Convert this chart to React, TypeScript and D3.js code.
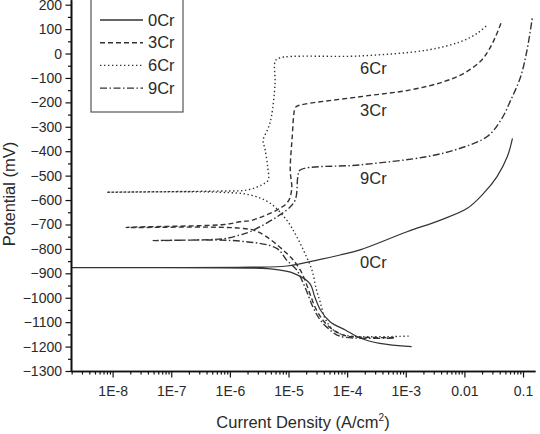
import React, { useEffect, useRef } from "react";
import * as d3 from "d3";

type Pt = [number, number];

// current density (A/cm2) vs potential (mV)
const seriesNames = ["0Cr", "3Cr", "6Cr", "9Cr"];

const cathodic0Cr: Pt[] = [
  [2e-9, -877], [2.5e-6, -879], [6.3e-6, -885], [1.2e-5, -899], [2.3e-5, -941],
  [2.8e-5, -996], [3.5e-5, -1050], [5.1e-5, -1098], [9.3e-5, -1132], [1.66e-4, -1165],
  [3.6e-4, -1187], [1.26e-3, -1200],
];
const anodic0Cr: Pt[] = [
  [2e-9, -877], [2.2e-6, -875], [9.3e-6, -870], [3.5e-5, -843], [7.6e-5, -825],
  [1.66e-4, -804], [1.05e-3, -730], [3.9e-3, -682], [1.12e-2, -634], [2.14e-2, -572],
  [3.6e-2, -504], [5.4e-2, -422], [6.6e-2, -347],
];

const cathodic3Cr: Pt[] = [
  [1.7e-8, -712], [1.48e-6, -715], [3.0e-6, -730], [9.3e-6, -818], [1.58e-5, -886],
  [3.0e-5, -1050], [4.5e-5, -1110], [7.9e-5, -1150], [1.26e-4, -1160], [6.3e-4, -1163],
];
const anodic3Cr: Pt[] = [
  [1.7e-8, -705], [8e-7, -700], [1.48e-6, -689], [2.5e-6, -681], [9.3e-6, -613],
  [1.13e-5, -559], [1.07e-5, -477], [1.15e-5, -350], [1.29e-5, -224], [1.38e-5, -216],
  [1.66e-4, -177], [1.2e-3, -149], [4.5e-3, -115], [9.8e-3, -81], [1.86e-2, -33],
  [2.6e-2, 14], [3.4e-2, 69], [4.2e-2, 124],
];

const cathodic6Cr: Pt[] = [
  [8e-9, -568], [6.8e-7, -568], [2.2e-6, -579], [4.8e-6, -612], [9.3e-6, -682],
  [1.38e-5, -750], [1.9e-5, -818], [2.5e-5, -886], [3.0e-5, -968], [3.5e-5, -1021],
  [4.2e-5, -1085], [6.0e-5, -1135], [1.0e-4, -1155], [1.12e-3, -1157],
];
const anodic6Cr: Pt[] = [
  [8e-9, -564], [6.8e-7, -563], [1.95e-6, -559], [3.5e-6, -538], [4.5e-6, -518],
  [4.4e-6, -463], [4.0e-6, -395], [3.7e-6, -354], [4.5e-6, -306], [5.1e-6, -259],
  [5.9e-6, -122], [5.9e-6, -33], [6.8e-6, -19], [1.66e-4, -10], [2.3e-3, 14],
  [8.5e-3, 48], [1.66e-2, 83], [2.45e-2, 117],
];

const cathodic9Cr: Pt[] = [
  [4.9e-8, -766], [1.48e-6, -768], [6.3e-6, -798], [9.3e-6, -846], [1.38e-5, -886],
  [1.58e-5, -913], [2.0e-5, -968], [2.6e-5, -1037], [3.47e-5, -1091], [5.1e-5, -1132],
  [7.6e-5, -1158], [6.2e-4, -1165],
];
const anodic9Cr: Pt[] = [
  [4.9e-8, -762], [8e-7, -758], [1.48e-6, -743], [2.2e-6, -730], [9.3e-6, -641],
  [1.3e-5, -600], [1.45e-5, -500], [1.58e-5, -477], [1.66e-4, -456], [2.3e-3, -422],
  [8.5e-3, -388], [2.45e-2, -340], [4.2e-2, -272], [6.2e-2, -190], [9.1e-2, -95],
  [0.117, 14], [0.145, 151],
];

// in-plot labels: [current, potential] of each label baseline
const curveLabelPos: Pt[] = [[1.66e-4, -878], [1.66e-4, -256], [1.66e-4, -85], [1.66e-4, -534]];

const currentTicks = [1e-8, 1e-7, 1e-6, 1e-5, 1e-4, 1e-3, 0.01, 0.1];
const currentTickLabels = ["1E-8", "1E-7", "1E-6", "1E-5", "1E-4", "1E-3", "0.01", "0.1"];
const potentialTicks = [200, 100, 0, -100, -200, -300, -400, -500, -600, -700, -800, -900, -1000, -1100, -1200, -1300];

const dashes = [null, "5,3", "1.4,2.6", "7,2.5,1.5,2.5"];
const FONT = "'Liberation Sans', Arial, sans-serif";
const INK = "#2a2a2a";

const App = () => {
  const svgRef = useRef<SVGSVGElement>(null);

  useEffect(() => {
    const svg = d3.select(svgRef.current);
    svg.selectAll("*").remove();

    const x = d3.scaleLog().domain([1.95e-9, 0.16]).range([71, 535]);
    const y = d3.scaleLinear().domain([-1300, 220]).range([371, -0.2]);

    const series = [
      [cathodic0Cr, anodic0Cr],
      [cathodic3Cr, anodic3Cr],
      [cathodic6Cr, anodic6Cr],
      [cathodic9Cr, anodic9Cr],
    ];

    const line = d3.line<Pt>()
      .x(d => x(d[0]))
      .y(d => y(d[1]))
      .curve(d3.curveCatmullRom.alpha(0.5));

    // curves: cathodic tail -> Ecorr -> anodic branch
    series.forEach(([cat, an], i) => {
      const pts = [...cat].reverse().concat(an.slice(1));
      svg.append("path")
        .attr("d", line(pts))
        .attr("fill", "none")
        .attr("stroke", "#333")
        .attr("stroke-width", i === 0 ? 1.2 : 1.4)
        .attr("stroke-dasharray", dashes[i]);
    });

    // minor ticks on the log axis
    const minor: number[] = [];
    for (let e = -9; e <= -1; e++) {
      for (let k = 2; k <= 9; k++) {
        const v = k * Math.pow(10, e);
        if (v >= 1.95e-9 && v <= 0.16) minor.push(v);
      }
    }

    const xAxis = svg.append("g").attr("transform", "translate(0,371)");
    xAxis.call(d3.axisBottom(x).tickValues(minor).tickSize(3.5).tickFormat(() => "").tickSizeOuter(0));
    xAxis.append("g").call(
      d3.axisBottom(x).tickValues(currentTicks).tickSize(6.5).tickPadding(8.5)
        .tickFormat((_, i) => currentTickLabels[i]).tickSizeOuter(0)
    );

    const yAxis = svg.append("g").attr("transform", "translate(71,0)");
    yAxis.call(d3.axisLeft(y).tickValues(d3.range(-1250, 200, 100)).tickSize(3).tickFormat(() => "").tickSizeOuter(0));
    yAxis.append("g").call(
      d3.axisLeft(y).tickValues(potentialTicks).tickSize(5.5).tickPadding(3.5)
        .tickFormat(d3.format("d")).tickSizeOuter(0)
    );

    svg.selectAll(".domain").attr("stroke", "#111").attr("stroke-width", 1.6);
    svg.selectAll(".tick line").attr("stroke", "#111").attr("stroke-width", 1.2);
    svg.selectAll(".tick text")
      .attr("fill", INK)
      .style("font-family", FONT)
      .style("font-size", "14px");

    // axis titles
    const xt = svg.append("text")
      .attr("x", 303).attr("y", 428)
      .attr("text-anchor", "middle")
      .attr("fill", INK)
      .style("font-family", FONT).style("font-size", "16.5px");
    xt.append("tspan").text("Current Density (A/cm");
    xt.append("tspan").attr("dy", -7).style("font-size", "10px").text("2");
    xt.append("tspan").attr("dy", 7).text(")");

    svg.append("text")
      .attr("transform", "translate(15,194) rotate(-90)")
      .attr("text-anchor", "middle")
      .attr("fill", INK)
      .style("font-family", FONT).style("font-size", "16.5px")
      .text("Potential (mV)");

    // curve labels
    svg.selectAll(".curve-label")
      .data(seriesNames)
      .enter().append("text")
      .attr("class", "curve-label")
      .attr("x", (_, i) => x(curveLabelPos[i][0]))
      .attr("y", (_, i) => y(curveLabelPos[i][1]))
      .attr("fill", INK)
      .style("font-family", FONT).style("font-size", "16.5px")
      .text(d => d);

    // legend
    const lg = svg.append("g");
    lg.append("rect")
      .attr("x", 91).attr("y", -8).attr("width", 92).attr("height", 120)
      .attr("fill", "#fff").attr("stroke", "#555").attr("stroke-width", 1.2);
    seriesNames.forEach((name, i) => {
      const cy = 20 + i * 22.7;
      lg.append("line")
        .attr("x1", 100).attr("x2", 143).attr("y1", cy).attr("y2", cy)
        .attr("stroke", "#333").attr("stroke-width", 1.4)
        .attr("stroke-dasharray", dashes[i]);
      lg.append("text")
        .attr("x", 148).attr("y", cy)
        .attr("dy", "0.35em")
        .attr("fill", INK)
        .style("font-family", FONT).style("font-size", "16.5px")
        .text(name);
    });
  }, []);

  return (
    <svg
      ref={svgRef}
      width={540}
      height={434}
      style={{ position: "absolute", left: 0, top: 0, background: "#fff" }}
    />
  );
};

export default App;
